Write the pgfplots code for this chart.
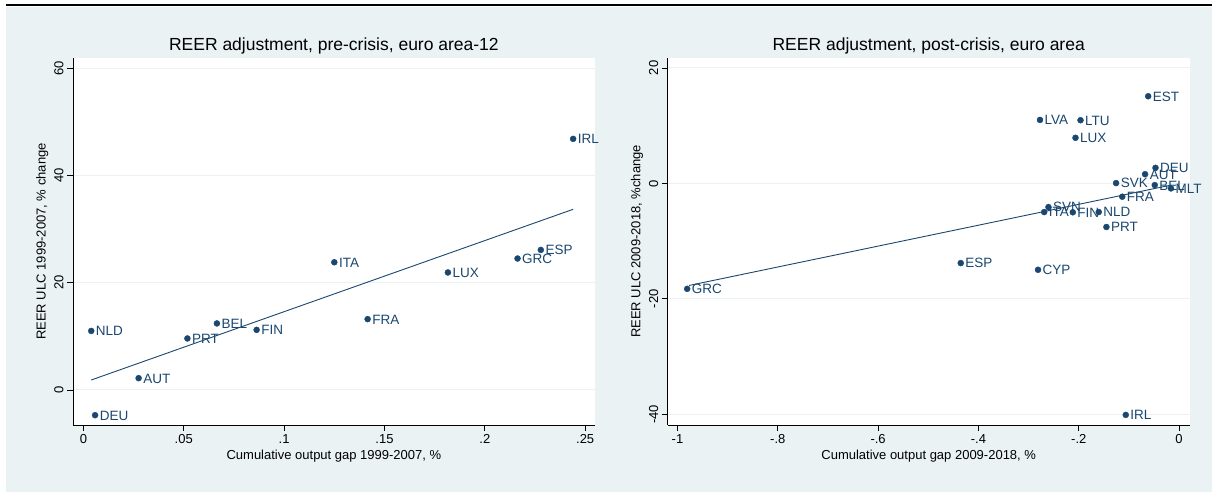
\documentclass[border=0pt]{standalone}
\usepackage{pgfplots}
\pgfplotsset{compat=1.18}
\usepackage{pgfplotstable}
\usepackage{fontspec}
\setmainfont{Liberation Sans}

\definecolor{navy}{RGB}{26,71,111}
\definecolor{bluishgray}{RGB}{234,242,243}

% Cumulative output gap vs. REER ULC change, 1999-2007
\pgfplotstableread{
x y lab
0.2440 46.8 IRL
0.2279 26.1 ESP
0.2163 24.5 GRC
0.1250 23.8 ITA
0.1816 21.9 LUX
0.1416 13.2 FRA
0.0665 12.4 BEL
0.0863 11.2 FIN
0.0039 11.0 NLD
0.0518 9.6 PRT
0.0275 2.2 AUT
0.0058 -4.7 DEU
}\precrisis

% Cumulative output gap vs. REER ULC change, 2009-2018
\pgfplotstableread{
x y lab
-0.0616 15.1 EST
-0.2773 11.0 LVA
-0.1965 10.95 LTU
-0.2065 7.9 LUX
-0.0470 2.7 DEU
-0.0678 1.6 AUT
-0.1256 0.06 SVK
-0.0485 -0.29 BEL
-0.0162 -0.86 MLT
-0.1133 -2.3 FRA
-0.2604 -4.1 SVN
-0.2689 -4.96 ITA
-0.2119 -5.0 FIN
-0.1602 -4.96 NLD
-0.1448 -7.55 PRT
-0.4353 -13.8 ESP
-0.2812 -14.96 CYP
-0.9807 -18.26 GRC
-0.1063 -40.1 IRL
}\postcrisis

\pgfplotsset{
  stata/.style={
    scale only axis, width=521.8pt, height=367pt,
    anchor=south west,
    axis lines=left,
    axis line style={-, black, line width=0.9pt},
    tick align=outside, major tick length=6pt,
    every tick/.style={black, line width=0.9pt},
    ymajorgrids, grid style={bluishgray, line width=1pt},
    axis background/.style={fill=white},
    clip=false,
    tick label style={font=\fontsize{13}{15}\selectfont},
    yticklabel style={rotate=90, anchor=south},
    every axis title/.style={at={(axis description cs:0.5,1)}, anchor=center,
      yshift=11.6pt, font=\fontsize{17.5}{20}\selectfont},
    every axis x label/.style={at={(axis description cs:0.5,0)}, anchor=center,
      yshift=-31pt, font=\fontsize{13}{15}\selectfont},
    every axis y label/.style={at={(axis description cs:0,0.5)}, xshift=-30.7pt,
      rotate=90, anchor=center, font=\fontsize{13}{15}\selectfont},
  },
  labelled/.style={only marks, mark=*, mark size=3pt, color=navy,
    nodes near coords, point meta=explicit symbolic,
    every node near coord/.append style={anchor=base west, inner sep=0pt,
      xshift=4.5pt, yshift=-4.9pt, font=\fontsize{13.5}{15}\selectfont, text=navy}},
  fitline/.style={no marks, color=navy, line width=0.9pt},
}

\begin{document}
\begin{tikzpicture}[x=1pt, y=1pt]
\useasboundingbox (0,0) rectangle (1212,492);
\fill[bluishgray] (6,0) rectangle (1212,485);
\draw[black, line width=1.5pt] (6,487) -- (1212,487);

\begin{axis}[stata, at={(73pt,67pt)},
  xmin=-0.0052, xmax=0.2548, ymin=-6.53, ymax=61.87,
  xtick={0,0.05,0.1,0.15,0.2,0.25},
  xticklabels={0,.05,.1,.15,.2,.25},
  ytick={0,20,40,60}, yticklabels={0,20,40,60},
  title={REER adjustment, pre-crisis, euro area-12},
  xlabel={Cumulative output gap 1999-2007, \%},
  ylabel={REER ULC 1999-2007, \% change}]
\addplot[labelled] table[x=x, y=y, meta=lab] {\precrisis};
\addplot[fitline] coordinates {(0.0039,1.86) (0.2440,33.67)};
\end{axis}

\begin{axis}[stata, at={(667.8pt,67pt)},
  xmin=-1.0193, xmax=0.021, ymin=-41.85, ymax=21.73,
  xtick={-1,-0.8,-0.6,-0.4,-0.2,0},
  xticklabels={-1,-.8,-.6,-.4,-.2,0},
  ytick={-40,-20,0,20}, yticklabels={-40,-20,0,20},
  title={REER adjustment, post-crisis, euro area},
  xlabel={Cumulative output gap 2009-2018, \%},
  ylabel={REER ULC 2009-2018, \%change}]
\addplot[labelled] table[x=x, y=y, meta=lab] {\postcrisis};
\addplot[fitline] coordinates {(-0.977,-17.68) (-0.016,-0.29)};
\end{axis}
\end{tikzpicture}
\end{document}
